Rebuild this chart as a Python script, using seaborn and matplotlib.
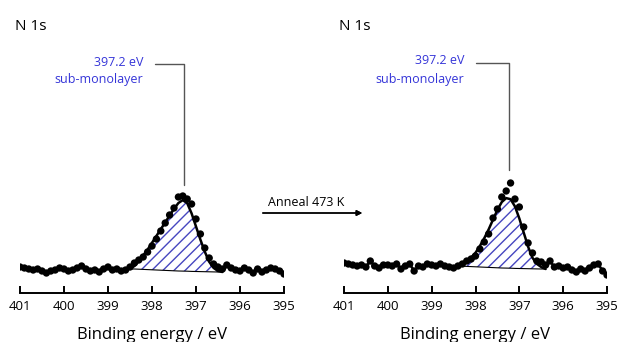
import seaborn as sns
import matplotlib.pyplot as plt
import pandas as pd

# binding energy grid (eV)
energy = [401.0, 400.9, 400.8, 400.7, 400.6, 400.5, 400.4, 400.3, 400.2, 400.1,
          400.0, 399.9, 399.8, 399.7, 399.6, 399.5, 399.4, 399.3, 399.2, 399.1,
          399.0, 398.9, 398.8, 398.7, 398.6, 398.5, 398.4, 398.3, 398.2, 398.1,
          398.0, 397.9, 397.8, 397.7, 397.6, 397.5, 397.4, 397.3, 397.2, 397.1,
          397.0, 396.9, 396.8, 396.7, 396.6, 396.5, 396.4, 396.3, 396.2, 396.1,
          396.0, 395.9, 395.8, 395.7, 395.6, 395.5, 395.4, 395.3, 395.2, 395.1, 395.0]

# measured intensity (arb. units), before anneal
before = [3, 2, 1, 0, 1, -1, -3, -1, 0, 2,
          1, -1, 0, 2, 4, 1, -1, 0, -2, 1,
          3, 0, 1, -1, 0, 3, 7, 10, 13, 18,
          24, 31, 39, 47, 55, 62, 73, 74, 71, 66,
          51, 36, 22, 12, 6, 3, 1, 5, 2, 0,
          -1, 2, 0, -3, 1, -2, 0, 2, 1, -1, -4]

# after anneal 473 K
after = [4, 3, 2, 1, 2, 0, 6, 1, -1, 2,
         2, 1, 3, -2, 1, 3, -4, 1, 0, 3,
         2, 1, 3, 1, 0, -1, 1, 3, 6, 8,
         11, 18, 25, 33, 49, 58, 70, 76, 84, 68,
         60, 40, 24, 14, 6, 5, 2, 6, 0, 1,
         -1, 0, -3, -5, -2, -4, -1, 2, 3, -4, -8]

# fitted component + background (peak region)
fit_e_before = [398.5, 398.4, 398.3, 398.2, 398.1, 398.0, 397.9, 397.8, 397.7, 397.6, 397.5,
                397.4, 397.3, 397.2, 397.1, 397.0, 396.9, 396.8, 396.7, 396.6, 396.5, 396.4]
comp_before = [0, 3, 8, 14, 20, 27, 34, 41, 48, 55, 62,
               68, 71, 68, 58, 45, 32, 20, 10, 4, 1, 0]
bg_before = [1, 1, 0.8, 0.6, 0.4, 0.2, 0, -0.2, -0.4, -0.6, -0.8,
             -1, -1.1, -1.2, -1.4, -1.5, -1.6, -1.7, -1.8, -1.9, -2, -2]

fit_e_after = [398.4, 398.3, 398.2, 398.1, 398.0, 397.9, 397.8, 397.7, 397.6, 397.5, 397.4,
               397.3, 397.2, 397.1, 397.0, 396.9, 396.8, 396.7, 396.6, 396.5, 396.4]
comp_after = [0, 2, 5, 9, 14, 21, 29, 38, 48, 58, 66,
              70, 69, 62, 50, 36, 22, 11, 5, 2, 0]
bg_after = [1, 0.8, 0.6, 0.4, 0.2, 0, -0.2, -0.4, -0.6, -0.8, -1,
            -1.1, -1.2, -1.4, -1.5, -1.6, -1.7, -1.8, -1.9, -2, -2]

peak_label = ["397.2 eV", "sub-monolayer"]
blue = "#3535d8"
hatch_blue = "#4646c0"

sns.set_style("ticks")
plt.rcParams['font.family'] = ['Open Sans', 'DejaVu Sans']
plt.rcParams['hatch.linewidth'] = 1.0
plt.rcParams['text.color'] = 'black'
plt.rcParams['xtick.color'] = 'black'
plt.rcParams['axes.labelcolor'] = 'black'

fig = plt.figure(figsize=(6.17, 3.42), dpi=100)
ax1 = fig.add_axes([20 / 617, 1 - 293 / 342, 264 / 617, 278 / 342])
ax2 = fig.add_axes([344 / 617, 1 - 293 / 342, 263 / 617, 278 / 342])

panels = [
    (ax1, before, fit_e_before, comp_before, bg_before, (-23, 255), (206, 85), 397.93, 397.27, 398.2),
    (ax2, after, fit_e_after, comp_after, bg_after, (-26, 252), (204, 97), 398.0, 397.23, 398.26),
]

for ax, counts, fe, comp, bg, ylim, (yh, yv), xh0, xh1, xt in panels:
    df = pd.DataFrame({"energy": energy, "counts": counts})
    env = [b + c for b, c in zip(bg, comp)]
    fit = pd.DataFrame({"energy": fe, "env": env, "bg": bg})

    ax.fill_between(fit.energy, fit.bg, fit.env, facecolor="white",
                    edgecolor=hatch_blue, hatch="///", linewidth=0, zorder=1)
    lo = df[df.energy >= max(fe)]
    hi = df[df.energy <= min(fe)]
    for seg in (lo, hi):
        sns.lineplot(data=seg, x="energy", y="counts", ax=ax, color="black",
                     linewidth=1.8, sort=False, estimator=None, zorder=2)
    sns.lineplot(data=fit, x="energy", y="env", ax=ax, color="black",
                 linewidth=1.8, sort=False, estimator=None, zorder=2)
    sns.lineplot(data=fit, x="energy", y="bg", ax=ax, color="black",
                 linewidth=0.8, sort=False, estimator=None, zorder=2)
    sns.scatterplot(data=df, x="energy", y="counts", ax=ax, color="black",
                    s=28, edgecolor="none", zorder=3)

    # annotation leader
    ax.plot([xh0, xh1, xh1], [yh, yh, yv], color="#555555", lw=1.0, clip_on=False)
    ax.text(xt, yh + 2, peak_label[0], color=blue, fontsize=9, ha="right", va="center")
    ax.text(xt, yh - 16, peak_label[1], color=blue, fontsize=9, ha="right", va="center")

    ax.set_xlim(401, 395)
    ax.set_ylim(*ylim)
    ax.set_xticks([401, 400, 399, 398, 397, 396, 395])
    ax.set_xticklabels(["401", "400", "399", "398", "397", "396", "395"])
    ax.set_yticks([])
    ax.set_ylabel("")
    ax.set_xlabel("Binding energy / eV", fontsize=12, labelpad=10)
    for s in ["top", "left", "right"]:
        ax.spines[s].set_visible(False)
    ax.spines["bottom"].set_linewidth(1.4)
    ax.spines["bottom"].set_color("black")
    ax.tick_params(axis="x", bottom=True, direction="in", length=5, width=1.4,
                   labelsize=9.5, pad=5, colors="black")
    ax.patch.set_alpha(0)

fig.text(15 / 617, 1 - 27 / 342, "N 1s", fontsize=11, va="center", ha="left")
fig.text(339 / 617, 1 - 27 / 342, "N 1s", fontsize=11, va="center", ha="left")

fig.text(268 / 617, 1 - 203 / 342, "Anneal 473 K", fontsize=9, va="center", ha="left")
fig.add_artist(plt.annotate("", xy=(365 / 617, 1 - 213 / 342), xytext=(260 / 617, 1 - 213 / 342),
                            xycoords="figure fraction", textcoords="figure fraction",
                            arrowprops=dict(arrowstyle="-|>", color="black", lw=1.0,
                                            mutation_scale=8)))

plt.savefig("out.png", dpi=100)
plt.close()
